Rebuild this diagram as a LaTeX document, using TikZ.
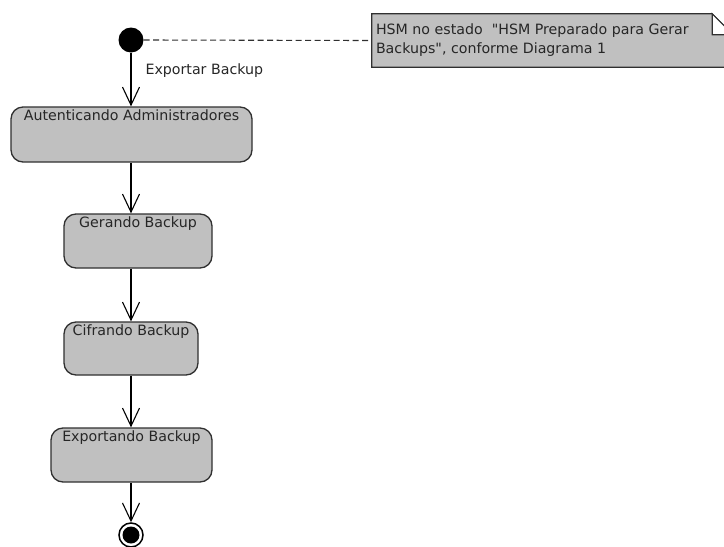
\documentclass[tikz,border=0pt]{standalone}
\usepackage{fontspec}
\newfontfamily\uifont{DejaVu Sans}
\usetikzlibrary{arrows.meta}
\definecolor{boxfill}{HTML}{C0C0C0}
\definecolor{boxline}{HTML}{303030}
\tikzset{
  statebox/.style={draw=boxline, fill=boxfill, line width=1.3pt, rounded corners=12pt, inner sep=0pt},
  boxlabel/.style={anchor=base, inner sep=0pt, yshift=-14pt, font=\uifont\fontsize{14.2}{19}\selectfont, text=black!85},
  trans/.style={line width=1.1pt, -{Straight Barb[length=18pt,width=17pt,line width=1.1pt]}},
  txt/.style={font=\uifont\fontsize{14.2}{19}\selectfont, text=black!85},
}
\begin{document}
\begin{tikzpicture}[x=1pt,y=-1pt]
\useasboundingbox (0,0) rectangle (724,547);
% initial state
\node[circle, fill=black, minimum size=25pt, inner sep=0pt] (init) at (131,40) {};
% note
\node[minimum width=361pt, minimum height=53pt, inner sep=0pt] (note) at (552.5,40.5) {};
\filldraw[fill=boxfill, draw=boxline, line width=1.2pt]
  (note.south west) -- (note.north west) -- ([xshift=-21pt]note.north east)
  -- ([yshift=-21pt]note.north east) -- (note.south east) -- cycle;
\filldraw[fill=white, draw=boxline, line width=1.2pt]
  ([xshift=-21pt]note.north east) -- ([xshift=-21pt,yshift=-21pt]note.north east)
  -- ([yshift=-21pt]note.north east) -- cycle;
\node[txt, anchor=base west, align=left, inner sep=0pt] (notetext) at ([xshift=4pt,yshift=-40pt]note.north west) {HSM no estado\ \ "HSM Preparado para Gerar\\Backups", conforme Diagrama 1};
\draw[boxline, line width=1.1pt, dash pattern=on 6pt off 3.5pt] (init.east) -- (note.west);
% states
\node[statebox, minimum width=241pt, minimum height=55pt, label={[boxlabel]north:Autenticando Administradores}] (s1) at (131.5,134.5) {};
\node[statebox, minimum width=148pt, minimum height=54pt, label={[boxlabel]north:Gerando Backup}] (s2) at (138,241) {};
\node[statebox, minimum width=134pt, minimum height=53pt, label={[boxlabel]north:Cifrando Backup}] (s3) at (131,348.5) {};
\node[statebox, minimum width=161pt, minimum height=54pt, label={[boxlabel]north:Exportando Backup}] (s4) at (131.5,455) {};
% final state
\node[circle, draw=black, line width=1.5pt, minimum size=24pt, inner sep=0pt] (final) at (131,535) {};
\node[circle, fill=black, minimum size=17pt, inner sep=0pt] (finaldot) at (final.center) {};
% transitions
\draw[trans] (init.south) -- node[txt, pos=0.41, anchor=base west, inner sep=0pt, xshift=14pt] (lbl) {Exportar Backup} (init.south |- s1.north);
\draw[trans] (s1.south -| init.south) -- (init.south |- s2.north);
\draw[trans] (s2.south -| init.south) -- (init.south |- s3.north);
\draw[trans] (s3.south -| init.south) -- (init.south |- s4.north);
\draw[trans] (s4.south -| init.south) -- (final.north);
\end{tikzpicture}
\end{document}
